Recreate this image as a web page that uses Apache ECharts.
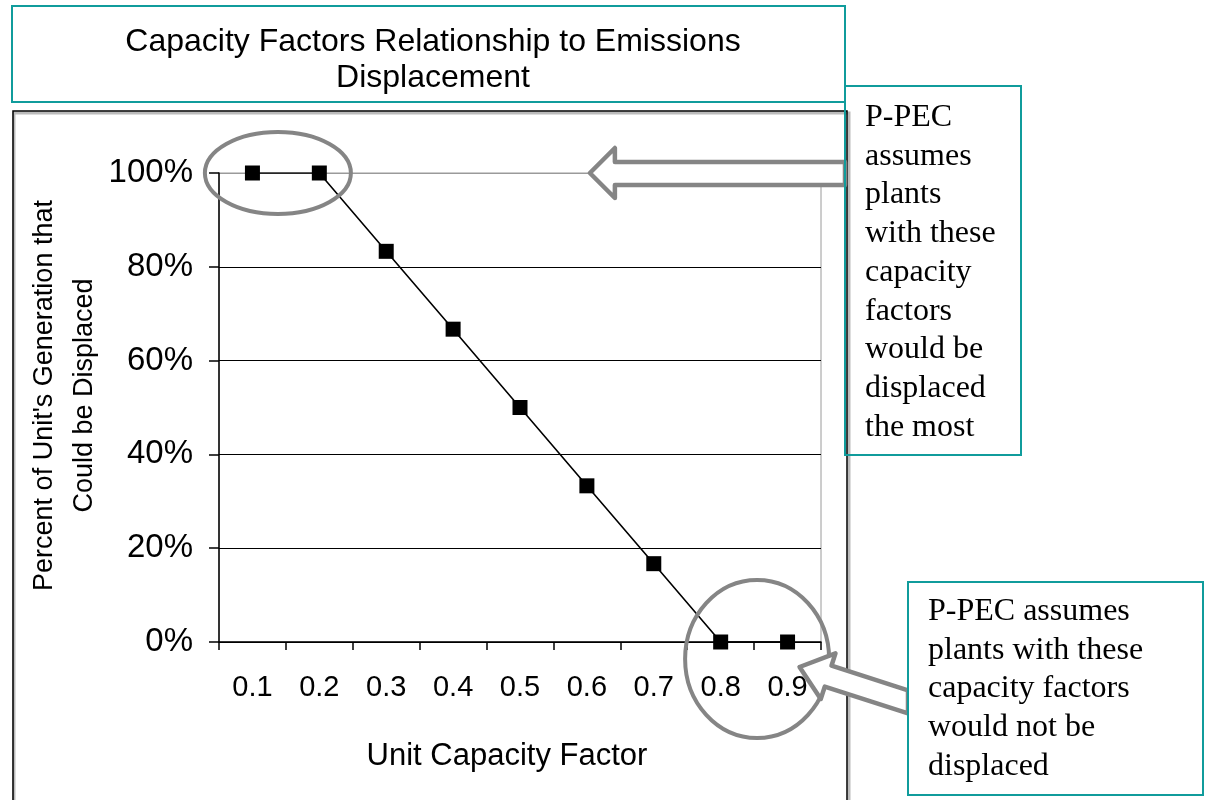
<!DOCTYPE html>
<html><head><meta charset="utf-8">
<script src="https://cdn.jsdelivr.net/npm/echarts@6/dist/echarts.min.js"></script>
<style>html,body{margin:0;padding:0;background:#fff}#c{width:1205px;height:800px}</style>
</head><body><div id="c"></div>
<script>
// ---- data ----
const categories = ['0.1','0.2','0.3','0.4','0.5','0.6','0.7','0.8','0.9'];
const displacedShare = [1.00, 1.00, 0.833, 0.667, 0.50, 0.333, 0.167, 0, 0];
const yTickValues = [0, 0.2, 0.4, 0.6, 0.8, 1.0];
const titleLines = ['Capacity Factors Relationship to Emissions', 'Displacement'];
const xAxisName = 'Unit Capacity Factor';
const yAxisNameLines = ["Percent of Unit's Generation that", 'Could be Displaced'];
const noteMostLines = ['P-PEC','assumes','plants','with these','capacity','factors','would be','displaced','the most'];
const noteNotLines = ['P-PEC assumes','plants with these','capacity factors','would not be','displaced'];

const SANS = '"Liberation Sans", Arial, sans-serif';
const SERIF = '"Liberation Serif", "Times New Roman", serif';
const TEAL = '#109C9C';
const GRAY = '#858585';

const chart = echarts.init(document.getElementById('c'), null, {renderer: 'canvas'});

chart.setOption({
  animation: false,
  backgroundColor: '#fff',
  title: {
    text: titleLines.join('\n'), left: 428, top: 19, textAlign: 'center',
    textStyle: {fontFamily: SANS, fontSize: 32, fontWeight: 'normal', color: '#000', lineHeight: 36}
  },
  grid: {left: 219, right: 384, top: 173, bottom: 158, show: true, borderColor: '#9a9a9a', borderWidth: 1, backgroundColor: 'transparent'},
  xAxis: {
    type: 'category', data: categories, boundaryGap: true,
    axisLine: {lineStyle: {color: '#000', width: 1.5}},
    axisTick: {show: true, length: 8, lineStyle: {color: '#000', width: 1.5}},
    axisLabel: {fontFamily: SANS, fontSize: 29, color: '#000', margin: 31},
    name: xAxisName, nameLocation: 'middle', nameGap: 99,
    nameTextStyle: {fontFamily: SANS, fontSize: 31, color: '#000', padding: [0, 26, 0, 0]}
  },
  yAxis: {
    type: 'value', min: yTickValues[0], max: yTickValues[yTickValues.length - 1], interval: 0.2,
    axisLine: {show: true, lineStyle: {color: '#000', width: 1.5}},
    axisTick: {show: true, length: 10, lineStyle: {color: '#000', width: 1.5}},
    axisLabel: {fontFamily: SANS, fontSize: 33, color: '#000', margin: 26, formatter: v => Math.round(v * 100) + '%'},
    splitLine: {show: true, lineStyle: {color: ['#000', '#000', '#000', '#000', '#000', '#9a9a9a'], width: 1.2}},
    name: yAxisNameLines.join('\n'), nameLocation: 'middle', nameGap: 112, nameRotate: 90,
    nameTextStyle: {fontFamily: SANS, fontSize: 27, color: '#000', lineHeight: 40, padding: [0, 0, 0, 24]}
  },
  series: [{
    type: 'line', data: displacedShare, symbol: 'rect', symbolSize: 15, showSymbol: true,
    lineStyle: {color: '#000', width: 1.6}, itemStyle: {color: '#000'}, z: 5
  }]
});

const px = (i, v) => chart.convertToPixel({seriesIndex: 0}, [i, v]);
const a = px(0, 1), b = px(1, 1), c = px(7, 0), d = px(8, 0), e = px(5, 1);

// arrow 1 (pointing left at the 100% line)
const t1 = [e[0] + 3, e[1]];
const arrow1 = [
  [t1[0], t1[1]], [t1[0] + 25, t1[1] - 25], [t1[0] + 25, t1[1] - 11],
  [845, t1[1] - 11], [845, t1[1] + 12], [t1[0] + 25, t1[1] + 12], [t1[0] + 25, t1[1] + 25]
];
// arrow 2 (pointing up-left toward the 0.8/0.9 circle)
const t2 = [d[0] + 12, d[1] + 25];
const ux = 0.952, uy = 0.306, nx = -0.306, ny = 0.952;
const hL = 30, hW = 24, sW = 11, boxX = 908;
const H = [t2[0] + hL * ux, t2[1] + hL * uy];
const st = [H[0] - sW * nx, H[1] - sW * ny];
const sb = [H[0] + sW * nx, H[1] + sW * ny];
const arrow2 = [
  t2,
  [H[0] - hW * nx, H[1] - hW * ny],
  st,
  [boxX, st[1] + (boxX - st[0]) / ux * uy],
  [boxX, sb[1] + (boxX - sb[0]) / ux * uy],
  sb,
  [H[0] + hW * nx, H[1] + hW * ny]
];

chart.setOption({
  graphic: [
    // title box
    {type: 'rect', shape: {x: 12, y: 6, width: 833, height: 96}, style: {fill: 'none', stroke: TEAL, lineWidth: 2}, z: 10},
    // chart frame with soft shadow
    {type: 'rect', shape: {x: 14, y: 113, width: 835, height: 700}, style: {fill: 'none', stroke: '#bbb', lineWidth: 3}, z: 9},
    {type: 'rect', shape: {x: 13, y: 111, width: 834, height: 700}, style: {fill: 'none', stroke: '#000', lineWidth: 1.5}, z: 10},
    // circles
    {type: 'ellipse', shape: {cx: (a[0] + b[0]) / 2 - 8, cy: a[1], rx: 73, ry: 41}, style: {fill: 'none', stroke: GRAY, lineWidth: 4}, z: 20},
    {type: 'ellipse', shape: {cx: (c[0] + d[0]) / 2 + 3, cy: c[1] + 17, rx: 72, ry: 79}, style: {fill: 'none', stroke: GRAY, lineWidth: 4}, z: 20},
    // arrows
    {type: 'polygon', shape: {points: arrow1}, style: {fill: '#fff', stroke: GRAY, lineWidth: 4.5, lineJoin: 'round'}, z: 21},
    {type: 'polygon', shape: {points: arrow2}, style: {fill: '#fff', stroke: GRAY, lineWidth: 4.5, lineJoin: 'round'}, z: 21},
    // note boxes
    {type: 'rect', shape: {x: 845, y: 86, width: 176, height: 369}, style: {fill: 'none', stroke: TEAL, lineWidth: 2}, z: 22},
    {type: 'text', x: 865, y: 98, style: {text: noteMostLines.join('\n'), fontFamily: SERIF, fontSize: 32, lineHeight: 38.75, fill: '#000', verticalAlign: 'top', align: 'left'}, z: 22},
    {type: 'rect', shape: {x: 908, y: 582, width: 295, height: 213}, style: {fill: '#fff', stroke: TEAL, lineWidth: 2}, z: 22},
    {type: 'text', x: 928, y: 592, style: {text: noteNotLines.join('\n'), fontFamily: SERIF, fontSize: 32, lineHeight: 38.75, fill: '#000', verticalAlign: 'top', align: 'left'}, z: 23}
  ]
});
</script></body></html>
